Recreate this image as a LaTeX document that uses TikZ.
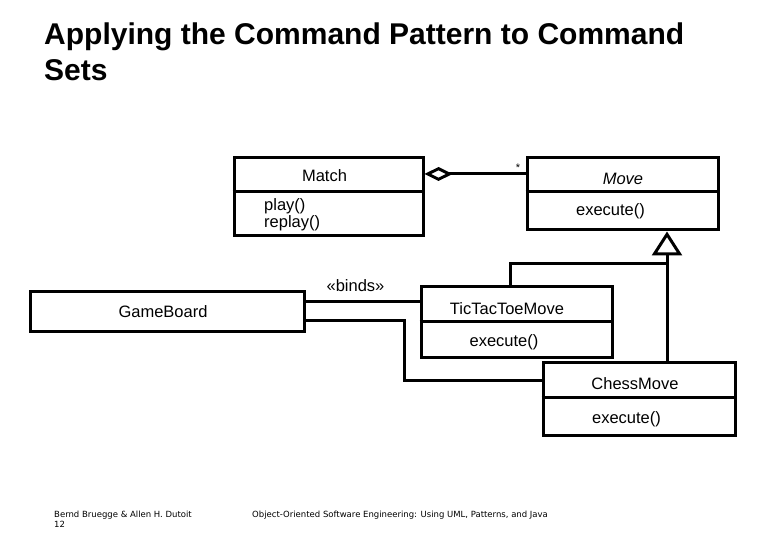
\documentclass[tikz,border=0pt]{standalone}
\usepackage{fontspec}
\setmainfont{Liberation Sans}
\newfontfamily\footfont{DejaVu Sans}
\usetikzlibrary{arrows.meta}
\begin{document}
\begin{tikzpicture}[x=1pt,y=-1pt,
  cls/.style={draw, line width=3pt, rectangle, inner sep=0pt},
  lbl/.style={anchor=base, inner sep=0pt, font=\fontsize{16.5}{18}\selectfont},
  lbll/.style={anchor=base west, inner sep=0pt, font=\fontsize{16.5}{18}\selectfont},
  conn/.style={line width=3pt},
  ttl/.style={anchor=base west, inner sep=0pt, font=\fontsize{30}{34}\selectfont\bfseries},
  foot/.style={anchor=base west, inner sep=0pt, font=\footfont\fontsize{8.5}{10}\selectfont}]
\useasboundingbox[fill=white] (0,0) rectangle (780,540);

% title
\node[ttl] (t1) at (44,45) {Applying the Command Pattern to Command};
\node[ttl] (t2) at (44,81) {Sets};

% classes
\node[cls, minimum width=189pt, minimum height=78pt] (match) at (328.5,197) {};
\node[cls, minimum width=191pt, minimum height=72pt] (move) at (622.5,194) {};
\node[cls, minimum width=191pt, minimum height=71pt] (tic) at (516.5,322.5) {};
\node[cls, minimum width=192pt, minimum height=72pt] (chess) at (639,399) {};
\node[cls, minimum width=274pt, minimum height=40pt] (board) at (167,312) {};

% dividers
\draw[conn] (match.west |- 0,192) -- (match.east |- 0,192);
\draw[conn] (move.west |- 0,192) -- (move.east |- 0,192);
\draw[conn] (tic.west |- 0,322) -- (tic.east |- 0,322);
\draw[conn] (chess.west |- 0,397) -- (chess.east |- 0,397);

% texts
\node[lbl] (tmatch) at (324.5,182) {Match};
\node[lbll] (tplay) at (264,211) {play()};
\node[lbll] (treplay) at (264,228) {replay()};
\node[lbl] (tmove) at (623,185) {\itshape Move};
\node[lbl] (tmex) at (610.5,216) {execute()};
\node[lbl] (tboard) at (163,318) {GameBoard};
\node[lbl] (ttic) at (507,315) {TicTacToeMove};
\node[lbl] (ttex) at (504,347) {execute()};
\node[lbl] (tchess) at (635,389) {ChessMove};
\node[lbl] (tcex) at (626.5,423) {execute()};
\node[lbl] (tbinds) at (355.5,292) {«binds»};
\node[anchor=base, inner sep=0pt, font=\fontsize{11}{12}\selectfont] (tstar) at (518,172) {*};

% aggregation
\coordinate (ag) at (0,174);
\draw[conn, {Diamond[open,length=28pt,width=14pt]}-] (match.east |- ag) -- (move.west |- ag);

% inheritance
\coordinate (gx) at (667,264);
\coordinate (tx) at (510,0);
\draw[conn, -{Triangle[open,length=24pt,width=30pt]}] (chess.north -| gx) -- (move.south -| gx);
\draw[conn] (tic.north -| tx) -- (tx |- gx) -- (gx);

% binds connectors
\coordinate (b1) at (0,302);
\coordinate (b2) at (404,321);
\coordinate (b3) at (0,381);
\draw[conn] (board.east |- b1) -- (tic.west |- b1);
\draw[conn] (board.east |- b2) -- (b2) -- (b2 |- b3) -- (chess.west |- b3);

% footer
\node[foot] (f1) at (54,517) {Bernd Bruegge \& Allen H. Dutoit};
\node[foot] (f2) at (54,527) {12};
\node[foot] (f3) at (252,517) {Object-Oriented Software Engineering: Using UML, Patterns, and Java};
\end{tikzpicture}
\end{document}
